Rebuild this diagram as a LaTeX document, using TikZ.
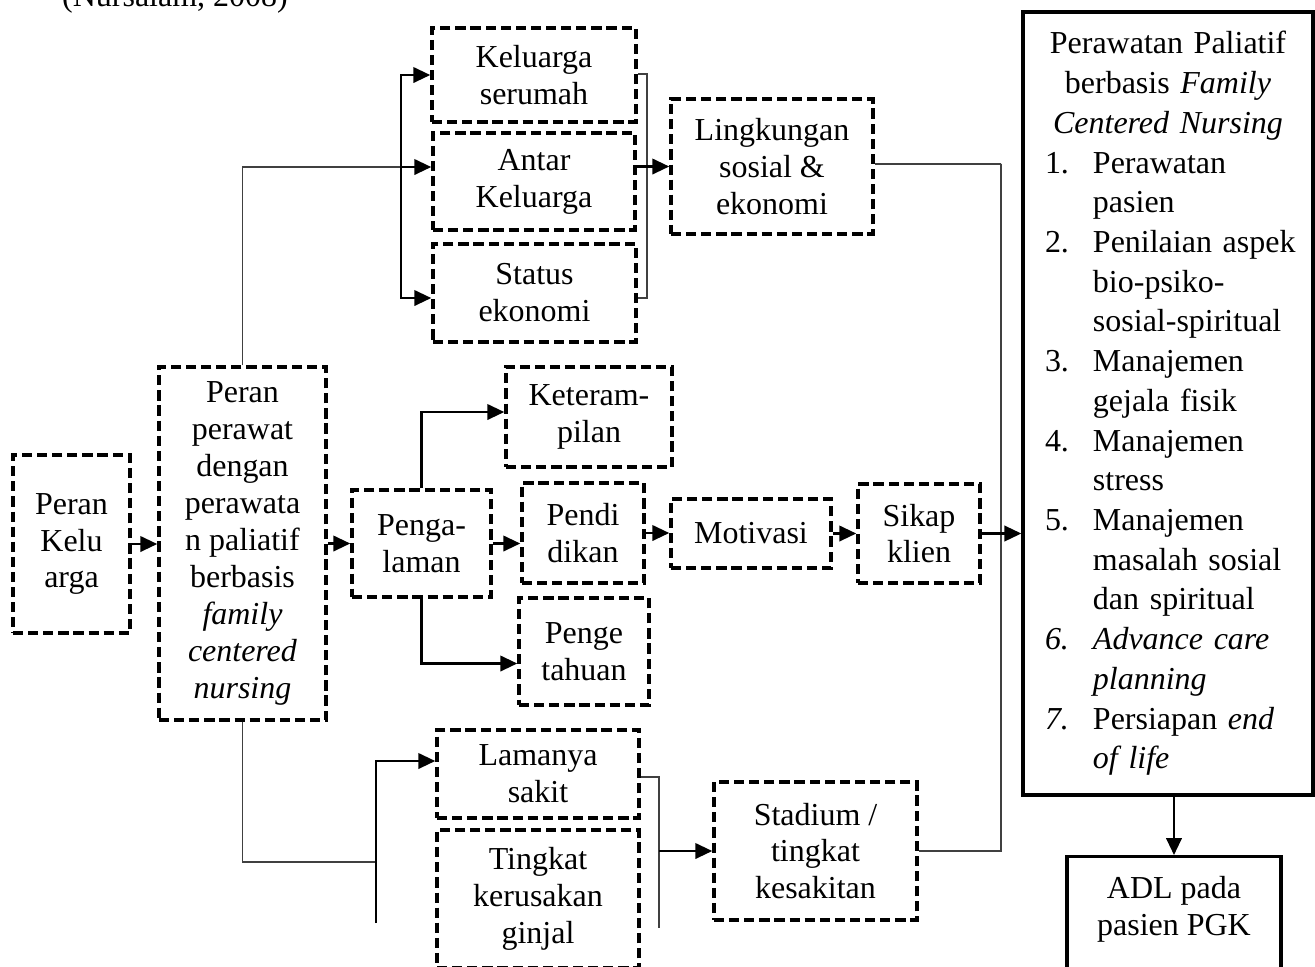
\documentclass[tikz,border=0pt]{standalone}
\usepackage{fontspec}
\setmainfont{Liberation Serif}
\usepackage{tikz}
\usetikzlibrary{positioning, calc, arrows.meta}

\newcommand{\numlbl}[1]{\makebox[0.48cm][l]{#1}}
\newcommand{\numind}{\hspace*{0.48cm}}

\begin{document}
\begin{tikzpicture}[
	every node/.style={font=\fontsize{9.1}{10.5}\selectfont, align=center, inner sep=0pt},
	dbox/.style={draw, line width=1pt, dash pattern=on 2.9pt off 1.4pt},
	sbox/.style={draw, line width=0.95pt},
	ln/.style={line width=0.45pt, black!75},
	arr/.style={line width=0.65pt, -{Triangle[length=4.8pt,width=4.4pt]}}
	]
	\useasboundingbox (0,0) rectangle (13.15,-9.66);
	\node[anchor=base] (src) at (1.75,-0.06) {(Nursalam, 2008)};
	
	%% kiri
	\node[dbox, minimum width=1.17cm, minimum height=1.78cm] (pk) at (0.715,-5.44) {Peran\\Kelu\\arga};
	\node[dbox, minimum width=1.67cm, minimum height=3.53cm] (pp) at (2.425,-5.435) {Peran\\perawat\\dengan\\perawata\\n paliatif\\berbasis\\\textit{family}\\\textit{centered}\\\textit{nursing}};
	
	%% atas
	\node[dbox, minimum width=2.04cm, minimum height=0.94cm] (serumah) at (5.34,-0.75) {Keluarga\\serumah};
	\node[dbox, minimum width=2.02cm, minimum height=0.97cm] (antar) at (5.34,-1.815) {Antar\\Keluarga};
	\node[dbox, minimum width=2.03cm, minimum height=0.98cm] (status) at (5.345,-2.93) {Status\\ekonomi};
	\node[dbox, minimum width=2.02cm, minimum height=1.35cm] (ling) at (7.72,-1.665) {Lingkungan\\sosial \&\\ekonomi};
	
	%% tengah
	\node[dbox, minimum width=1.39cm, minimum height=1.07cm] (pglm) at (4.215,-5.435) {Penga-\\laman};
	\node[dbox, minimum width=1.66cm, minimum height=1.0cm] (ketr) at (5.89,-4.17) {Keteram-\\pilan};
	\node[dbox, minimum width=1.22cm, minimum height=1.0cm] (pend) at (5.83,-5.33) {Pendi\\dikan};
	\node[dbox, minimum width=1.30cm, minimum height=1.07cm] (peng) at (5.84,-6.515) {Penge\\tahuan};
	\node[dbox, minimum width=1.6cm, minimum height=0.69cm] (motiv) at (7.51,-5.335) {Motivasi};
	\node[dbox, minimum width=1.22cm, minimum height=0.99cm] (sikap) at (9.19,-5.335) {Sikap\\klien};
	
	%% bawah
	\node[dbox, minimum width=2.02cm, minimum height=0.88cm] (lama) at (5.38,-7.74) {Lamanya\\sakit};
	\node[dbox, minimum width=2.02cm, minimum height=1.38cm] (tingk) at (5.38,-8.99) {Tingkat\\kerusakan\\ginjal};
	\node[dbox, minimum width=2.03cm, minimum height=1.38cm] (stad) at (8.155,-8.51) {Stadium /\\tingkat\\kesakitan};
	
	%% kanan
	\node[sbox, minimum width=2.9cm, minimum height=7.83cm, text width=2.46cm, inner xsep=0.22cm, align=left, font=\fontsize{9.1}{11.3}\selectfont] (big) at (11.68,-4.035) {\centering Perawatan Paliatif\\ berbasis \textit{Family}\\ \textit{Centered Nursing}\par
		\raggedright
		\numlbl{1.}Perawatan\\ \numind pasien\\
		\numlbl{2.}\mbox{Penilaian aspek}\\ \numind bio-psiko-\\ \numind \mbox{sosial-spiritual}\\
		\numlbl{3.}Manajemen\\ \numind gejala fisik\\
		\numlbl{4.}Manajemen\\ \numind stress\\
		\numlbl{5.}Manajemen\\ \numind \mbox{masalah sosial}\\ \numind dan spiritual\\
		\numlbl{\textit{6.}}\mbox{\textit{Advance care}}\\ \numind\textit{planning}\\
		\numlbl{\textit{7.}}\mbox{Persiapan \textit{end}}\\ \numind\textit{of life}};
	\node[sbox, anchor=north, minimum width=2.14cm, inner ysep=0.2cm, text depth=1cm] (adl) at (11.74,-8.55) {ADL pada\\pasien PGK};
	
	%% garis
	\coordinate (lbr) at (4.01,-1.67);
	\coordinate (rbr) at (6.47,-1.67);
	\coordinate (lbr2) at (3.76,-8.62);
	\coordinate (lbot) at (3.76,-9.23);
	\coordinate (rbot) at (6.59,-9.28);
	\coordinate (rail) at (10.01,-1.64);
	
	\draw[arr] (pk.east) -- (pk.east -| pp.west);
	\draw[arr] (pp.east) -- (pp.east -| pglm.west);
	
	\draw[ln] (pp.north) |- (lbr);
	\draw[arr] (lbr) -- (lbr -| antar.west);
	\draw[arr] (lbr) |- (serumah.west);
	\draw[arr] (lbr) |- ([yshift=-0.05cm]status.west);
	\draw[ln] ([yshift=0.01cm]serumah.east) -| (rbr) |- ([yshift=-0.05cm]status.east);
	\draw[arr] (antar.east |- ling.west) -- (ling.west);
	\draw[ln] ([yshift=0.025cm]ling.east) -| (rail) |- (stad.east);
	
	\draw[arr] (pglm.north) |- ([yshift=0.05cm]ketr.west);
	\draw[arr] (pglm.east) -- (pglm.east -| pend.west);
	\draw[arr] (pglm.south) |- ([yshift=-0.12cm]peng.west);
	\draw[arr] (pend.east) -- (pend.east -| motiv.west);
	\draw[arr] (motiv.east) -- (motiv.east -| sikap.west);
	\draw[arr] (sikap.east) -- (sikap.east -| big.west);
	
	\draw[ln] (pp.south) |- (lbr2);
	\draw[arr] (lbot) |- ([yshift=0.13cm]lama.west);
	\draw[ln] ([yshift=-0.03cm]lama.east) -| (rbot);
	\draw[arr] (rbot |- stad.west) -- (stad.west);
	
	\draw[arr] (adl.north |- big.south) -- (adl.north);
\end{tikzpicture}
\end{document}
